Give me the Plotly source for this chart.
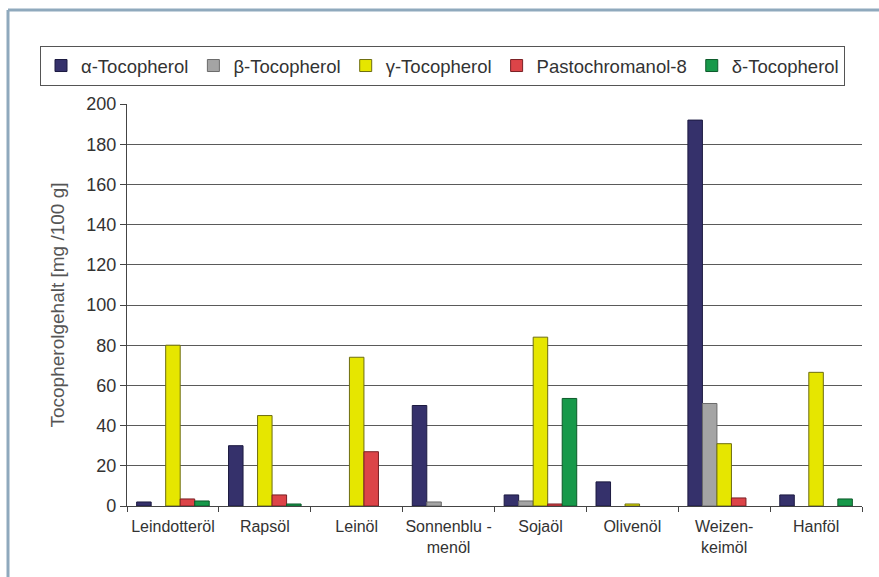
import plotly.graph_objects as go

# Tocopherol content of vegetable oils (mg per 100 g)
oils = ["Leindotteröl", "Rapsöl", "Leinöl", "Sonnenblu -<br>menöl",
        "Sojaöl", "Olivenöl", "Weizen-<br>keimöl", "Hanföl"]

alpha_toco = [2, 30, 0, 50, 5.5, 12, 192, 5.5]
beta_toco = [0, 0, 0, 2, 2.5, 0, 51, 0]
gamma_toco = [80, 45, 74, 0, 84, 1, 31, 66.5]
pastochromanol = [3.5, 5.5, 27, 0, 1, 0, 4, 0]
delta_toco = [2.5, 1, 0, 0, 53.5, 0, 0, 3.5]

series = [
    ("α-Tocopherol", alpha_toco, "#35316b", "#1c1a40"),
    ("β-Tocopherol", beta_toco, "#a4a4a4", "#6a6a6a"),
    ("γ-Tocopherol", gamma_toco, "#e6e600", "#6d6d10"),
    ("Pastochromanol-8", pastochromanol, "#dc4448", "#7a2024"),
    ("δ-Tocopherol", delta_toco, "#17994a", "#0d5a2a"),
]

y_ticks = list(range(0, 201, 20))

fig = go.Figure()
for name, vals, fill, edge in series:
    # zero content: leave the slot empty instead of drawing a flat outline
    shown = [v if v else None for v in vals]
    fig.add_trace(go.Bar(
        name=name, x=oils, y=shown,
        marker=dict(color=fill, line=dict(color=edge, width=1)),
    ))

W, H = 879, 577
L, R, T, B = 127, 17, 104, 71
pw, ph = W - L - R, H - T - B


def px_x(p):
    return (p - L) / pw


def px_y(p):
    return (H - B - p) / ph


frame = "#8fa9bd"
shapes = [
    dict(type="line", xref="paper", yref="paper",
         x0=px_x(8), x1=px_x(W + 5), y0=px_y(10), y1=px_y(10),
         line=dict(color=frame, width=3)),
    dict(type="line", xref="paper", yref="paper",
         x0=px_x(8), x1=px_x(8), y0=px_y(10), y1=px_y(H + 5),
         line=dict(color=frame, width=3)),
]

fig.update_layout(
    width=W, height=H,
    margin=dict(l=L, r=R, t=T, b=B),
    paper_bgcolor="white", plot_bgcolor="white",
    barmode="group", bargap=0.21, bargroupgap=0,
    font=dict(family="Liberation Sans, Arial, sans-serif", color="#333333"),
    shapes=shapes,
    legend=dict(
        orientation="h", x=px_x(40), xanchor="left",
        y=px_y(46), yanchor="top",
        bordercolor="#555555", borderwidth=1, bgcolor="white",
        font=dict(size=18.5, color="#333333"),
        itemwidth=30, traceorder="normal",
    ),
    showlegend=True,
)

fig.update_yaxes(
    range=[0, 200], tickvals=y_ticks, automargin=False,
    showgrid=True, gridcolor="#5a5a5a", gridwidth=1.2,
    showline=True, linecolor="#444444", linewidth=1.2,
    ticks="outside", ticklen=6, tickcolor="#444444",
    tickfont=dict(size=18, color="#333333"),
    title=dict(text="Tocopherolgehalt [mg /100 g]",
               font=dict(size=19, color="#555555"), standoff=16),
    zeroline=False,
)
fig.update_xaxes(
    automargin=False, tickangle=0,
    showline=True, linecolor="#444444", linewidth=1.2,
    ticks="outside", ticklen=5, tickcolor="#444444", tickson="boundaries",
    tickfont=dict(size=16, color="#333333"), ticklabelstandoff=6,
    showgrid=False,
)

fig.write_html("out.html")
